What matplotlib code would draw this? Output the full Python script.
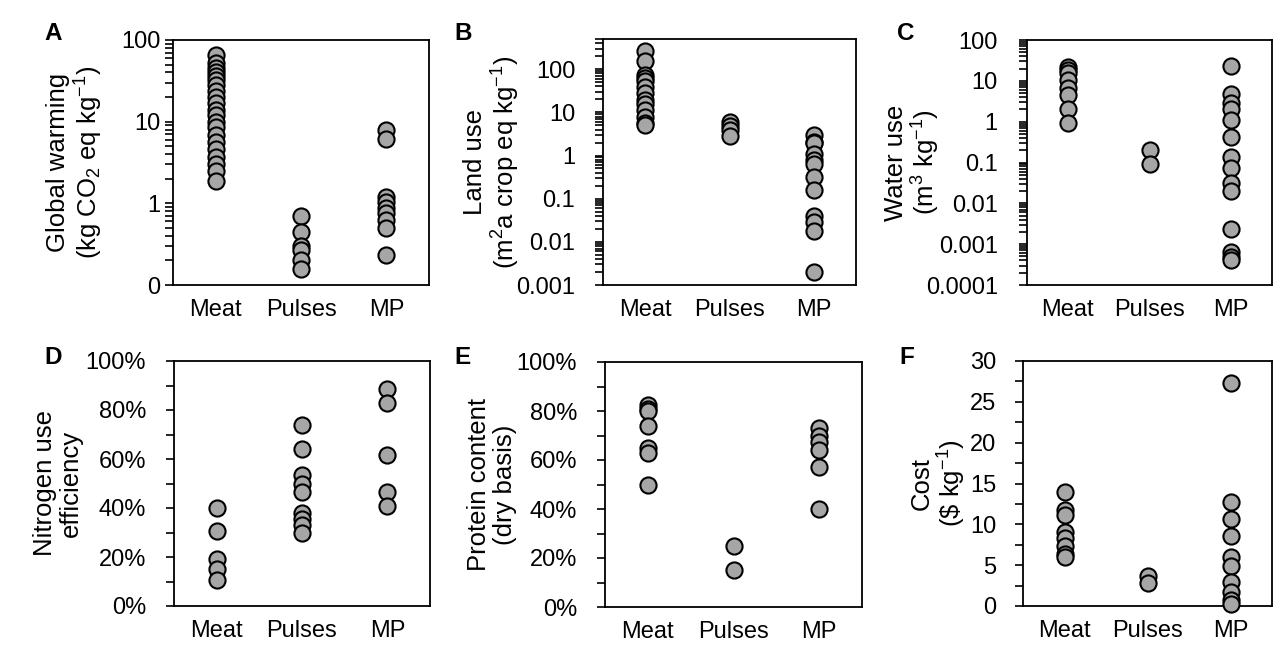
import numpy as np
import matplotlib.pyplot as plt
from matplotlib.ticker import FixedLocator, FixedFormatter, LogLocator, NullFormatter, MultipleLocator, FuncFormatter

plt.rcParams['font.family'] = ['Liberation Sans', 'DejaVu Sans']
plt.rcParams['mathtext.fontset'] = 'custom'
plt.rcParams['mathtext.rm'] = 'Liberation Sans'
plt.rcParams['mathtext.it'] = 'Liberation Sans:italic'
plt.rcParams['font.size'] = 16

groups = ['Meat', 'Pulses', 'MP']

# A: global warming (kg CO2 eq / kg)
gw_meat = [65, 52, 45, 40, 36, 32, 28, 24, 20, 17, 14, 12, 10, 8.5, 6.8, 5.6, 4.6, 3.7, 3.0, 2.5, 1.9]
gw_pulses = [0.69, 0.45, 0.30, 0.27, 0.20, 0.156]
gw_mp = [7.8, 6.1, 1.21, 1.05, 0.87, 0.76, 0.63, 0.50, 0.233]

# B: land use (m2a crop eq / kg)
lu_meat = [257, 156, 74, 62, 52, 38, 28, 19, 16, 11.3, 7.9, 5.7, 5.1]
lu_pulses = [6.0, 4.8, 3.9, 2.8]
lu_mp = [2.97, 2.07, 1.9, 1.11, 0.78, 0.65, 0.32, 0.16, 0.039, 0.0285, 0.018, 0.002]

# C: water use (m3 / kg)
wu_meat = [22, 18.4, 15.3, 10.5, 6.5, 4.5, 2.1, 0.91]
wu_pulses = [0.2, 0.091]
wu_mp = [23.5, 4.7, 2.8, 2.1, 1.09, 0.41, 0.138, 0.072, 0.032, 0.02, 0.0023, 0.00065, 0.00049, 0.00042]

# D: nitrogen use efficiency (%)
nue_meat = [39.8, 30.7, 19, 15, 10.6]
nue_pulses = [73.8, 64, 53.4, 50, 46.6, 38, 35.7, 33, 29.9]
nue_mp = [88.7, 82.9, 61.8, 46.6, 40.9]

# E: protein content, dry basis (%)
pc_meat = [82.5, 81, 80, 73.8, 65, 63, 49.8]
pc_pulses = [25, 15]
pc_mp = [73, 69.6, 67.2, 64.2, 57, 39.8]

# F: cost ($ / kg)
cost_meat = [14.0, 11.8, 11.1, 9.1, 8.3, 7.4, 6.4, 6.0]
cost_pulses = [3.7, 2.8]
cost_mp = [27.3, 12.7, 10.7, 8.6, 6.0, 4.9, 2.9, 1.76, 0.73, 0.24]

W, H = 1275, 645
fig = plt.figure(figsize=(W / 100, H / 100), dpi=100)

LABEL_FS = 18.5
TICK_FS = 17


def px_axes(l, t, r, b):
    return fig.add_axes([l / W, 1 - b / H, (r - l) / W, (b - t) / H])


def style(ax, ypad):
    for s in ax.spines.values():
        s.set_linewidth(1.3)
        s.set_color('black')
    ax.set_xlim(0.5, 3.5)
    ax.set_xticks([1, 2, 3])
    ax.set_xticklabels(groups)
    ax.tick_params(axis='x', length=0, pad=10, labelsize=TICK_FS)
    ax.tick_params(axis='y', which='both', direction='out', length=6, width=1.2, pad=ypad, labelsize=TICK_FS)


def dots(ax, data):
    for i, vals in enumerate(data):
        ax.scatter(np.full(len(vals), i + 1), vals, s=135, facecolor='#a6a6a6',
                   edgecolor='black', linewidth=1.5, zorder=3, clip_on=False)


def log_ticks(ax, lo, hi, labels):
    ax.set_yscale('log')
    ax.set_ylim(lo, hi)
    majors = [10.0 ** k for k in range(int(np.log10(lo)), 3)]
    ax.yaxis.set_major_locator(FixedLocator(majors))
    ax.yaxis.set_major_formatter(FixedFormatter(labels))
    ax.yaxis.set_minor_locator(LogLocator(base=10, subs=np.arange(2, 10), numticks=20))
    ax.yaxis.set_minor_formatter(NullFormatter())


def ylab(ax, text, x):
    ax.set_ylabel(text, fontsize=LABEL_FS, linespacing=1.1)
    ax.yaxis.set_label_coords(x, 0.5)


def panel_letter(x, y, s):
    fig.text(x / W, 1 - y / H, s, fontsize=17.5, fontweight='bold', ha='left', va='center')


pct = FuncFormatter(lambda v, p: '%d%%' % round(v))

# A
ax = px_axes(173, 40, 429, 285)
dots(ax, [gw_meat, gw_pulses, gw_mp])
log_ticks(ax, 0.1, 100, ['0', '1', '10', '100'])
style(ax, 3)
ylab(ax, 'Global warming\n(kg CO$_2$ eq kg$^{-1}$)', -0.265)
panel_letter(44, 33, 'A')

# B
ax = px_axes(603, 39, 856, 285)
dots(ax, [lu_meat, lu_pulses, lu_mp])
log_ticks(ax, 0.001, 500, ['0.001', '0.01', '0.1', '1', '10', '100'])
style(ax, 14)
ylab(ax, 'Land use\n(m$^2$a crop eq kg$^{-1}$)', -0.32)
panel_letter(454, 33, 'B')

# C
ax = px_axes(1027, 40, 1272, 285)
dots(ax, [wu_meat, wu_pulses, wu_mp])
log_ticks(ax, 0.0001, 100, ['0.0001', '0.001', '0.01', '0.1', '1', '10', '100'])
style(ax, 15)
ylab(ax, 'Water use\n(m$^3$ kg$^{-1}$)', -0.345)
panel_letter(897, 33, 'C')

# D
ax = px_axes(174, 361, 430, 606)
dots(ax, [nue_meat, nue_pulses, nue_mp])
ax.set_ylim(0, 100)
ax.yaxis.set_major_locator(MultipleLocator(20))
ax.yaxis.set_minor_locator(MultipleLocator(10))
ax.yaxis.set_major_formatter(pct)
style(ax, 14)
ylab(ax, 'Nitrogen use\nefficiency', -0.355)
panel_letter(44, 357, 'D')

# E
ax = px_axes(605, 362, 862, 607)
dots(ax, [pc_meat, pc_pulses, pc_mp])
ax.set_ylim(0, 100)
ax.yaxis.set_major_locator(MultipleLocator(20))
ax.yaxis.set_minor_locator(MultipleLocator(10))
ax.yaxis.set_major_formatter(pct)
style(ax, 14)
ylab(ax, 'Protein content\n(dry basis)', -0.342)
panel_letter(454, 357, 'E')

# F
ax = px_axes(1023, 361, 1272, 606)
dots(ax, [cost_meat, cost_pulses, cost_mp])
ax.set_ylim(0, 30)
ax.yaxis.set_major_locator(MultipleLocator(5))
ax.yaxis.set_minor_locator(MultipleLocator(2.5))
style(ax, 13)
ylab(ax, 'Cost\n(\\$ kg$^{-1}$)', -0.22)
panel_letter(899, 357, 'F')

fig.savefig('out.png', dpi=100)
